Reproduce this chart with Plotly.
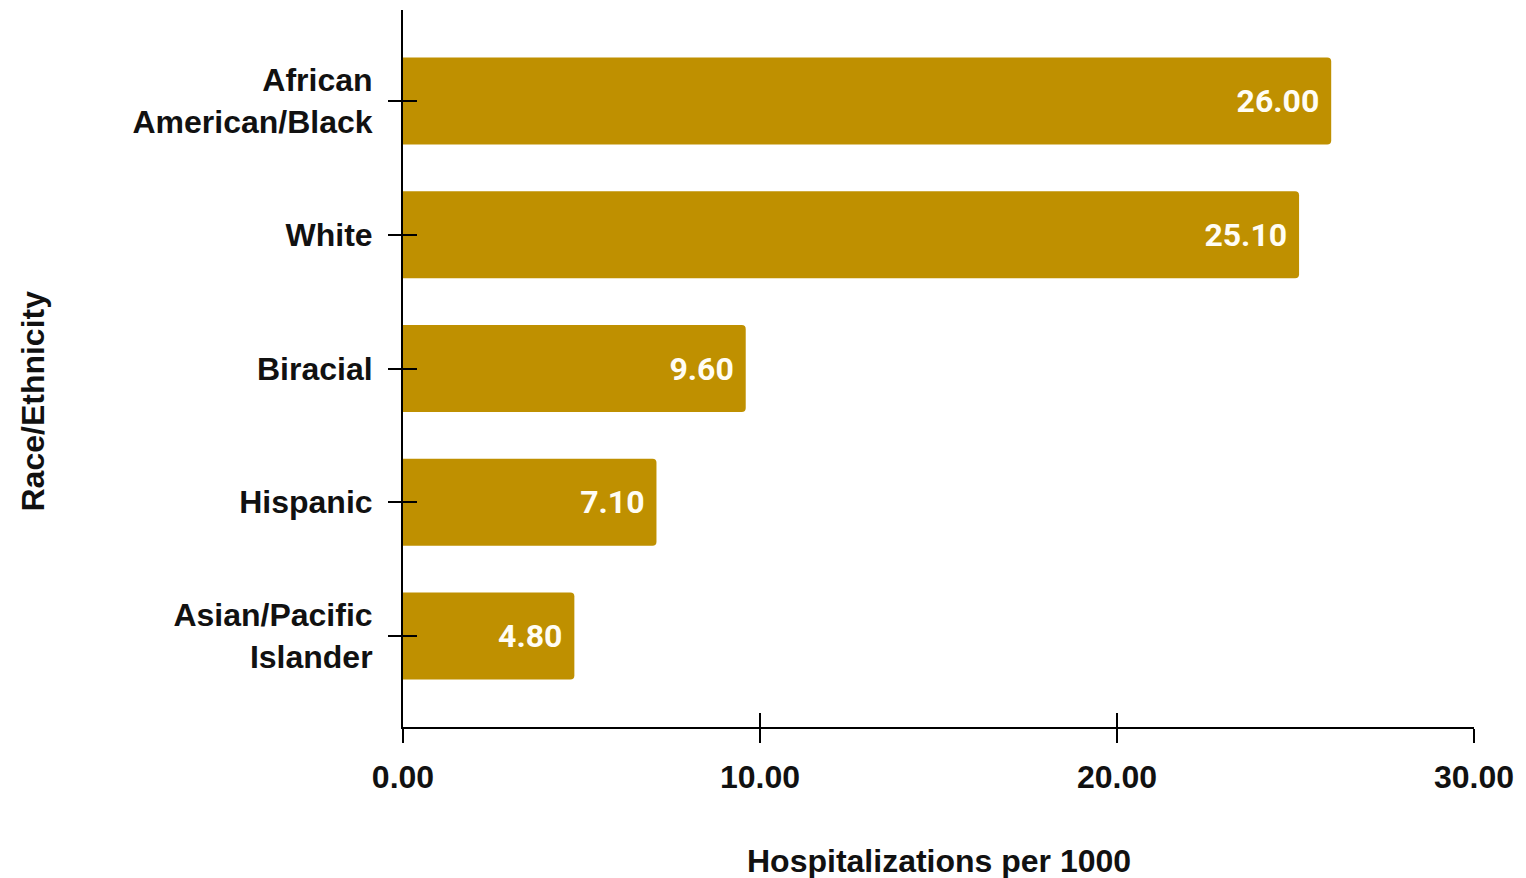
import plotly.graph_objects as go

categories = ["African<br>American/Black", "White", "Biracial", "Hispanic", "Asian/Pacific<br>Islander"]
values = [26.00, 25.10, 9.60, 7.10, 4.80]
x_ticks = [0, 10, 20, 30]
x_tick_labels = ["0.00", "10.00", "20.00", "30.00"]

BAR = "#BF9000"
LABEL_FONT = dict(family="Liberation Sans, Arial, sans-serif", size=32, color="#111111", weight="bold")

fig = go.Figure()
fig.add_trace(go.Bar(
    x=values, y=categories, orientation="h",
    marker=dict(color=BAR, line=dict(width=0)),
    text=[f"{v:.2f}\u00a0" for v in values],
    textposition="inside", insidetextanchor="end",
    textfont=dict(family="Roboto, sans-serif", size=32, color="#FFFDF5", weight="bold"),
    textangle=0, cliponaxis=False, showlegend=False,
))
# invisible helper trace on the overlay axes so they render
fig.add_trace(go.Scatter(x=[None], y=[None], xaxis="x2", yaxis="y2", showlegend=False, hoverinfo="skip"))

fig.update_layout(
    width=1526, height=878,
    margin=dict(l=403, r=52, t=10, b=151),
    paper_bgcolor="white", plot_bgcolor="white",
    bargap=0.35, barcornerradius=4,
    xaxis=dict(
        range=[0, 30], tickvals=x_ticks, ticktext=x_tick_labels,
        showgrid=False, zeroline=False,
        showline=True, linecolor="black", linewidth=2,
        ticks="outside", ticklen=14, tickwidth=2, tickcolor="black",
        tickfont=LABEL_FONT, ticklabelstandoff=7,
        layer="below traces",
    ),
    yaxis=dict(
        categoryorder="array", categoryarray=categories,
        autorange=False, range=[4.68, -0.68],
        showgrid=False, zeroline=False,
        showline=True, linecolor="black", linewidth=2,
        ticks="outside", ticklen=13, tickwidth=2, tickcolor="black",
        tickfont=LABEL_FONT, ticklabelstandoff=9,
        layer="below traces",
    ),
    xaxis2=dict(
        overlaying="x", matches="x", anchor="y2", side="bottom",
        range=[0, 30], tickvals=x_ticks, showticklabels=False,
        showgrid=False, zeroline=False, showline=False,
        ticks="inside", ticklen=14, tickwidth=2, tickcolor="black",
        layer="above traces",
    ),
    yaxis2=dict(
        overlaying="y", anchor="x2", side="left",
        autorange=False, range=[4.68, -0.68],
        tickvals=[0, 1, 2, 3, 4], showticklabels=False,
        showgrid=False, zeroline=False, showline=False,
        ticks="inside", ticklen=14, tickwidth=2, tickcolor="black",
        layer="above traces",
    ),
    annotations=[
        dict(text="Hospitalizations per 1000", xref="paper", yref="paper",
             x=0.5, y=0, xanchor="center", yanchor="top", yshift=-114,
             showarrow=False, font=LABEL_FONT),
        dict(text="Race/Ethnicity", xref="paper", yref="paper",
             x=0, y=0.5, xanchor="center", yanchor="middle", xshift=-371, yshift=-33,
             textangle=-90, showarrow=False, font=LABEL_FONT),
    ],
)

fig.write_html(
    "out.html",
    config={"displayModeBar": False},
    post_script="document.body.style.margin='0';document.body.style.overflow='hidden';",
)
